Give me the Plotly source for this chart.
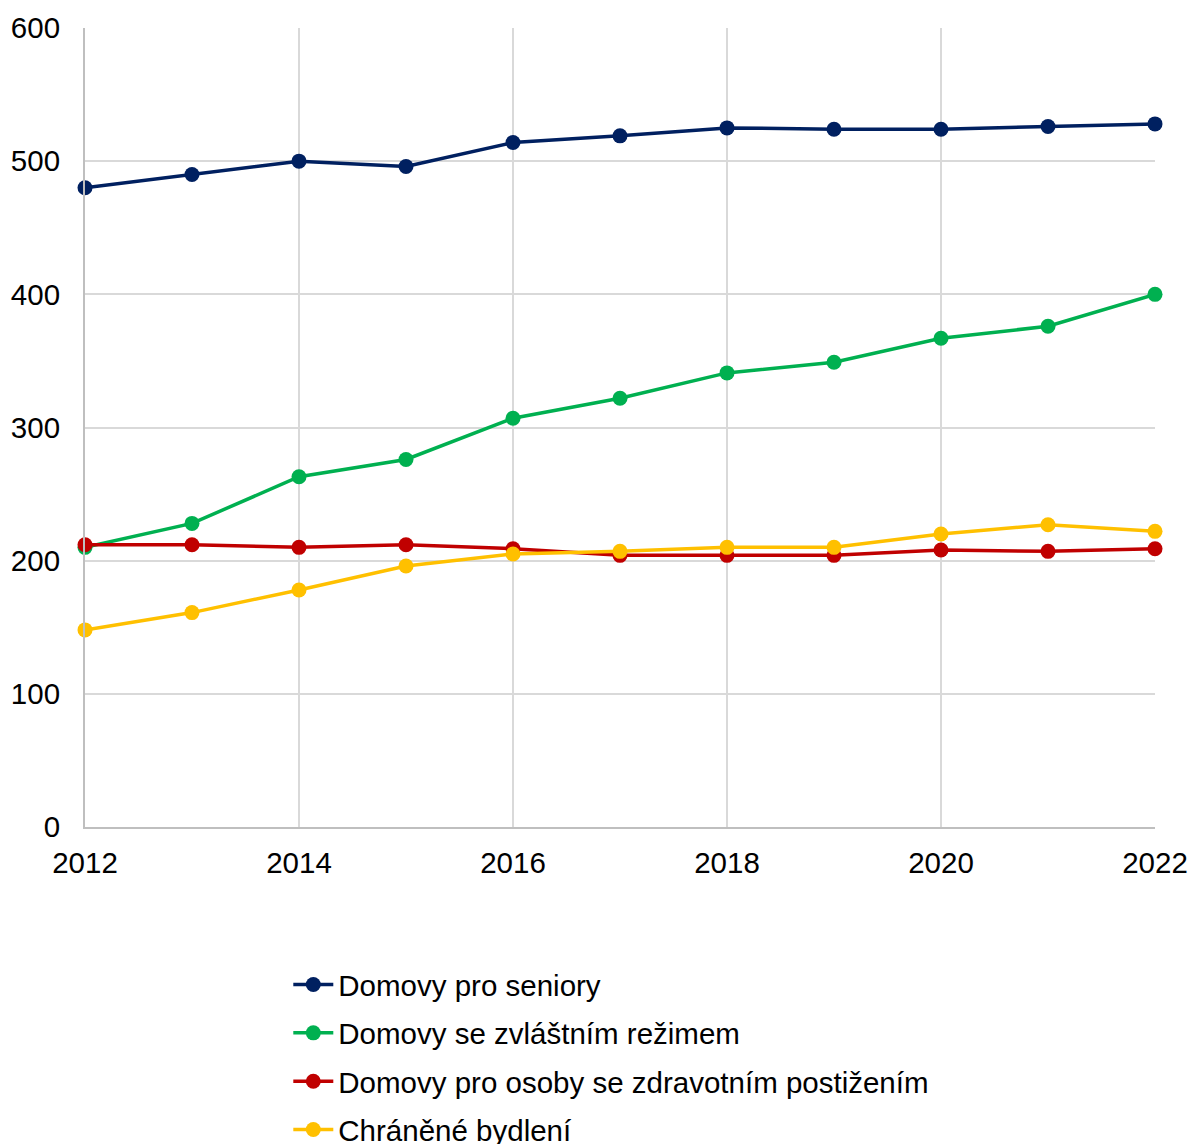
import plotly.graph_objects as go

# Years on the horizontal axis
years = [2012, 2013, 2014, 2015, 2016, 2017, 2018, 2019, 2020, 2021, 2022]

# Number of facilities per type
seniors = [480, 490, 500, 496, 514, 519, 525, 524, 524, 526, 528]
special_regime = [210, 228, 263, 276, 307, 322, 341, 349, 367, 376, 400]
disability = [212, 212, 210, 212, 209, 204, 204, 204, 208, 207, 209]
sheltered = [148, 161, 178, 196, 205, 207, 210, 210, 220, 227, 222]

series_names = [
    "Domovy pro seniory",
    "Domovy se zvláštním režimem",
    "Domovy pro osoby se zdravotním postižením",
    "Chráněné bydlení",
]
series_values = [seniors, special_regime, disability, sheltered]
series_colors = ["#002060", "#00B050", "#C00000", "#FFC000"]

x_ticks = [2012, 2014, 2016, 2018, 2020, 2022]
y_ticks = [0, 100, 200, 300, 400, 500, 600]

FONT = "Liberation Sans, Arial, sans-serif"
FS = 29.5

fig = go.Figure()
for i, (name, vals, col) in enumerate(zip(series_names, series_values, series_colors)):
    fig.add_trace(go.Scatter(
        x=years, y=vals, name=name, mode="lines+markers",
        line=dict(color=col, width=3.5),
        marker=dict(color=col, size=15),
        cliponaxis=False,
        legendgroup=f"g{i}",
    ))

fig.update_layout(
    width=1190, height=1144,
    paper_bgcolor="white", plot_bgcolor="white",
    font=dict(family=FONT, size=FS, color="#000000"),
    margin=dict(l=85, r=35, t=28, b=317, autoexpand=False),
    showlegend=True,
    legend=dict(
        x=0.19, xanchor="left", y=-0.165, yanchor="top",
        orientation="v", traceorder="grouped", tracegroupgap=7,
        font=dict(family=FONT, size=FS, color="#000000"),
        bgcolor="rgba(0,0,0,0)", itemwidth=40,
    ),
    xaxis=dict(
        range=[2012, 2022], tickvals=x_ticks, ticktext=[str(v) for v in x_ticks],
        showgrid=True, gridcolor="#D9D9D9", gridwidth=1.5,
        showline=True, linecolor="#BFBFBF", linewidth=2,
        ticks="", ticklabelstandoff=9, zeroline=False,
    ),
    yaxis=dict(
        range=[0, 600], tickvals=y_ticks, ticktext=[str(v) for v in y_ticks],
        showgrid=True, gridcolor="#D9D9D9", gridwidth=1.5,
        showline=True, linecolor="#BFBFBF", linewidth=2,
        ticks="", ticklabelstandoff=17, zeroline=False,
    ),
)

fig.write_html("out.html")
